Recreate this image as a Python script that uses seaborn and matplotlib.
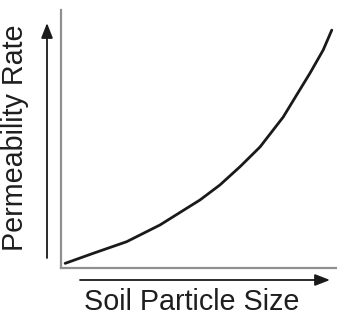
import matplotlib
matplotlib.use("Agg")
import matplotlib.pyplot as plt
import seaborn as sns
import pandas as pd

# curve (axis units 0..1)
particle_size = [0.015, 0.117, 0.238, 0.359, 0.504, 0.576, 0.649, 0.721,
                 0.805, 0.854, 0.902, 0.950, 0.981]
permeability = [0.018, 0.057, 0.102, 0.167, 0.264, 0.322, 0.393, 0.469,
                0.585, 0.671, 0.755, 0.845, 0.922]

x_label = "Soil Particle Size"
y_label = "Permeability Rate"

sns.set_style("white")
plt.rcParams['font.family'] = ['Liberation Sans', 'DejaVu Sans']

W, H = 337, 318
fig = plt.figure(figsize=(W / 100, H / 100), dpi=100)
ax = fig.add_axes([61 / W, (H - 268) / H, (W - 61) / W, (268 - 10) / H])

df = pd.DataFrame({'size': particle_size, 'rate': permeability})
sns.lineplot(data=df, x='size', y='rate', ax=ax, color='#1a1a1a', linewidth=2.0)

ax.set_xlim(0, 1)
ax.set_ylim(0, 1)
ax.set_xticks([])
ax.set_yticks([])
ax.set_xlabel('')
ax.set_ylabel('')
for side in ['top', 'right']:
    ax.spines[side].set_visible(False)
for side in ['left', 'bottom']:
    ax.spines[side].set_color('#909090')
    ax.spines[side].set_linewidth(1.6)

# arrows beside the axes, in figure pixels (origin bottom-left)
arrow = dict(arrowstyle='-|>,head_length=0.9,head_width=0.35', color='#1a1a1a', lw=1.3,
             shrinkA=0, shrinkB=0)
ax.annotate('', xy=(47, H - 23), xytext=(47, H - 258), xycoords='figure pixels',
            textcoords='figure pixels', arrowprops=arrow, annotation_clip=False)
ax.annotate('', xy=(330, H - 280), xytext=(80, H - 280), xycoords='figure pixels',
            textcoords='figure pixels', arrowprops=arrow, annotation_clip=False)

fig.text(192 / W, (H - 302) / H, x_label, ha='center', va='center', fontsize=20.7, color='#1e1e1e')
fig.text(15 / W, (H - 138) / H, y_label, ha='center', va='center', rotation=90,
         fontsize=20.7, color='#1e1e1e')

fig.savefig('out.png', dpi=100, facecolor='white')
